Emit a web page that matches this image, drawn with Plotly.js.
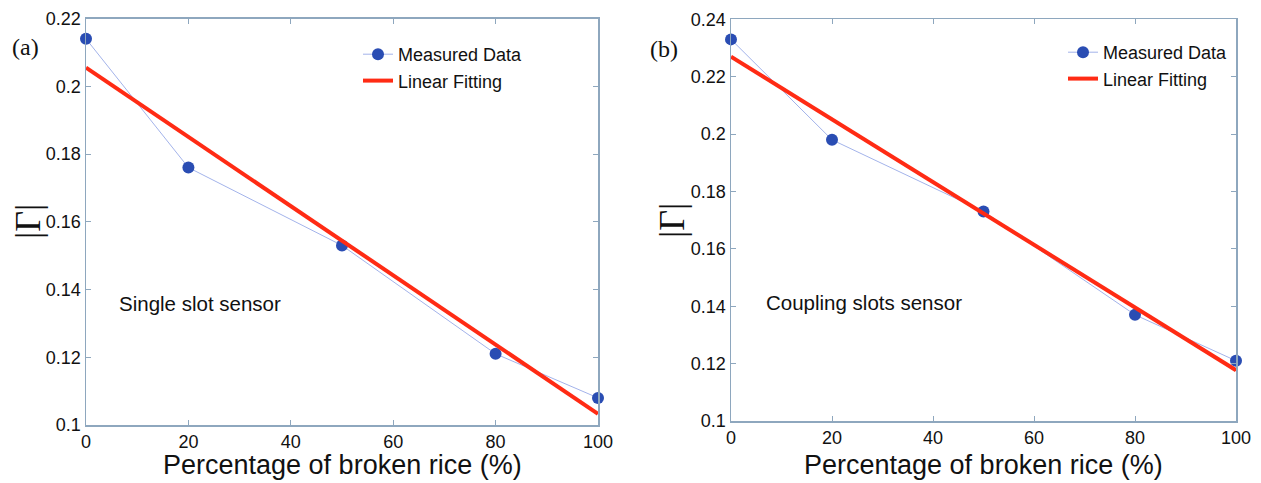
<!DOCTYPE html>
<html>
<head>
<meta charset="utf-8">
<script src="https://cdn.plot.ly/plotly-3.0.1.min.js"></script>
<style>
  html, body { margin: 0; padding: 0; background: #fff; }
  #chart { width: 1261px; height: 483px; }
</style>
</head>
<body>
<div id="chart"></div>
<script>
// ---- data ----
const brokenPct = [0, 20, 50, 80, 100];
const measuredA = [0.214, 0.176, 0.153, 0.121, 0.108];
const measuredB = [0.233, 0.198, 0.173, 0.137, 0.121];
const fitX = [0, 100];
const fitA = [0.2055, 0.1033];
const fitB = [0.227, 0.1177];
const xTicks = [0, 20, 40, 60, 80, 100];
const yTicksA = [0.1, 0.12, 0.14, 0.16, 0.18, 0.2, 0.22];
const yTicksB = [0.1, 0.12, 0.14, 0.16, 0.18, 0.2, 0.22, 0.24];
const seriesNames = ['Measured Data', 'Linear Fitting'];
const panelLabels = ['(a)', '(b)'];
const sensorLabels = ['Single slot sensor', 'Coupling slots sensor'];
const xTitle = 'Percentage of broken rice (%)';
const yTitle = '|Γ|';

// ---- styles ----
const W = 1261, H = 483;
const axisColor = '#8ea7be';
const markerColor = '#2a4db3';
const connColor = '#a3b3ea';
const fitColor = '#ff2b14';
const textFont = { family: 'Liberation Sans, Arial, sans-serif', size: 18, color: '#111' };
const sensorFont = { family: 'Liberation Sans, Arial, sans-serif', size: 20.5, color: '#111' };
const serifFont = 'Liberation Serif, Times New Roman, serif';

function px(x) { return x / W; }
function py(y) { return 1 - y / H; }

function measuredTrace(y, xa, ya, leg) {
  return {
    x: brokenPct, y: y, xaxis: xa, yaxis: ya, legend: leg,
    name: seriesNames[0], type: 'scatter', mode: 'lines+markers',
    line: { color: connColor, width: 1 },
    marker: { color: markerColor, size: 12 },
    cliponaxis: false
  };
}
function fitTrace(y, xa, ya, leg) {
  return {
    x: fitX, y: y, xaxis: xa, yaxis: ya, legend: leg,
    name: seriesNames[1], type: 'scatter', mode: 'lines',
    line: { color: fitColor, width: 4 },
    cliponaxis: false
  };
}

const data = [
  measuredTrace(measuredA, 'x', 'y', 'legend'),
  fitTrace(fitA, 'x', 'y', 'legend'),
  measuredTrace(measuredB, 'x2', 'y2', 'legend2'),
  fitTrace(fitB, 'x2', 'y2', 'legend2')
];

function xAxis(domain, anchor) {
  return {
    domain: domain, anchor: anchor, range: [0, 100],
    tickvals: xTicks, ticks: 'inside', ticklen: 5, tickcolor: axisColor,
    showline: true, linecolor: axisColor, linewidth: 1.5, mirror: 'ticks',
    showgrid: false, zeroline: false,
    tickfont: textFont, fixedrange: true
  };
}
function yAxis(domain, anchor, range, ticks) {
  return {
    domain: domain, anchor: anchor, range: range,
    tickvals: ticks, ticktext: ticks.map(v => String(+v.toFixed(2))),
    ticks: 'inside', ticklen: 5, tickcolor: axisColor,
    showline: true, linecolor: axisColor, linewidth: 1.5, mirror: 'ticks',
    showgrid: false, zeroline: false,
    tickfont: textFont, fixedrange: true
  };
}

function ann(text, x, y, font, extra) {
  return Object.assign({
    text: text, x: px(x), y: py(y), xref: 'paper', yref: 'paper',
    xanchor: 'center', yanchor: 'middle', showarrow: false, font: font
  }, extra || {});
}

const titleFont = { family: 'Liberation Sans, Arial, sans-serif', size: 27, color: '#111' };
const labelFont = { family: serifFont, size: 24, color: '#111' };
const gammaFont = { family: serifFont, size: 36, color: '#111' };

const layout = {
  width: W, height: H,
  margin: { l: 0, r: 0, t: 0, b: 0 },
  paper_bgcolor: '#fff', plot_bgcolor: '#fff',
  showlegend: true,
  xaxis: xAxis([px(86), px(598)], 'y'),
  yaxis: yAxis([py(425), py(18.5)], 'x', [0.1, 0.22], yTicksA),
  xaxis2: xAxis([px(731), px(1236)], 'y2'),
  yaxis2: yAxis([py(421), py(19.3)], 'x2', [0.1, 0.24], yTicksB),
  legend: {
    x: px(358), y: py(36), xanchor: 'left', yanchor: 'top',
    bgcolor: 'rgba(0,0,0,0)', font: textFont, tracegroupgap: 0, itemwidth: 30
  },
  legend2: {
    x: px(1063), y: py(34), xanchor: 'left', yanchor: 'top',
    bgcolor: 'rgba(0,0,0,0)', font: textFont, tracegroupgap: 0, itemwidth: 30
  },
  annotations: [
    ann(panelLabels[0], 25, 47, labelFont),
    ann(panelLabels[1], 664, 49, labelFont),
    ann(sensorLabels[0], 117, 303, sensorFont, { xanchor: 'left' }),
    ann(sensorLabels[1], 764, 302, sensorFont, { xanchor: 'left' }),
    ann(xTitle, 342, 465, titleFont),
    ann(xTitle, 983, 465, titleFont),
    ann(yTitle, 28, 222, gammaFont, { textangle: -90 }),
    ann(yTitle, 672, 221, gammaFont, { textangle: -90 })
  ]
};

Plotly.newPlot('chart', data, layout, { displayModeBar: false, staticPlot: true });
</script>
</body>
</html>
